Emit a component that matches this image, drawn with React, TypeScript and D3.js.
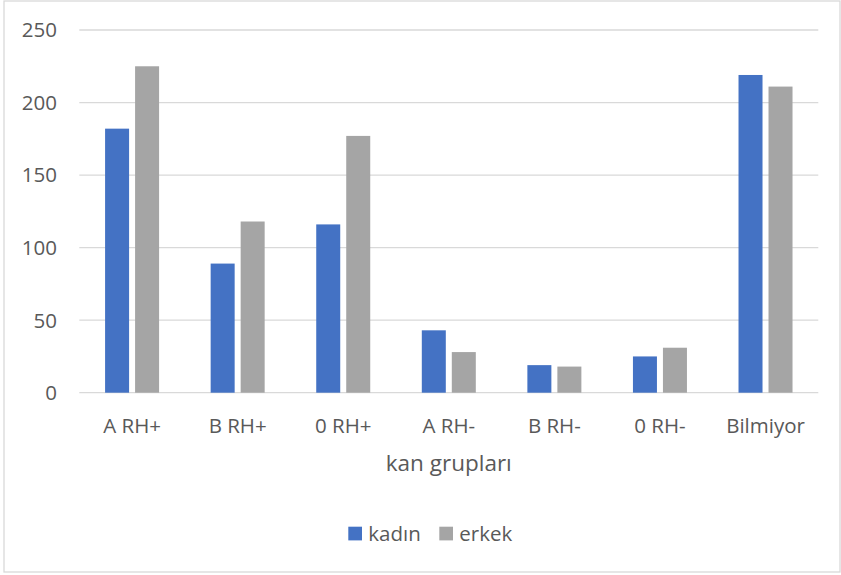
import React from "react";
import * as d3 from "d3";

const categories = ["A RH+", "B RH+", "0 RH+", "A RH-", "B RH-", "0 RH-", "Bilmiyor"];
const seriesNames = ["kadın", "erkek"];
const kadin = [182, 89, 116, 43, 19, 25, 219];
const erkek = [225, 118, 177, 28, 18, 31, 211];
const yTicks = [0, 50, 100, 150, 200, 250];
const xTitle = "kan grupları";

const colors: Record<string, string> = { "kadın": "#4472C4", "erkek": "#A5A5A5" };
const FONT = "'Open Sans', 'Noto Sans', sans-serif";
const TEXT = "#595959";

export default function App() {
  const W = 841, H = 575;
  const left = 79.3, right = 818.3, top = 30, bottom = 392.7;
  const x0 = d3.scaleBand<string>().domain(categories).range([left, right]).padding(0);
  const bw = x0.bandwidth();
  const x1 = d3.scaleBand<string>().domain(seriesNames).range([bw / 2 - 27, bw / 2 + 27]).paddingInner(0.2).paddingOuter(0);
  const y = d3.scaleLinear().domain([0, 250]).range([bottom, top]);
  const values: Record<string, number[]> = { "kadın": kadin, "erkek": erkek };

  return (
    <svg width={W} height={H} style={{ position: "absolute", left: 0, top: 0, background: "#fff" }} fontFamily={FONT}>
      <rect x={4} y={1} width={836} height={571} fill="#fff" stroke="#d9d9d9" strokeWidth={1.3} />
      {yTicks.map((t) => (
        <g key={t}>
          <line x1={left} x2={right} y1={y(t)} y2={y(t)} stroke="#d9d9d9" strokeWidth={1.3} />
          <text x={57} y={y(t)} dy="0.36em" textAnchor="end" fontSize={20.5} fill={TEXT}>{t}</text>
        </g>
      ))}
      {seriesNames.map((s) => (
        <g key={s}>
          {categories.map((c, i) => {
            const v = values[s][i];
            return (
              <rect key={c} x={(x0(c) as number) + (x1(s) as number)} y={y(v)} width={x1.bandwidth()} height={y(0) - y(v)} fill={colors[s]} />
            );
          })}
        </g>
      ))}
      {categories.map((c) => (
        <text key={c} x={(x0(c) as number) + bw / 2} y={432.5} textAnchor="middle" fontSize={20.5} fill={TEXT}>{c}</text>
      ))}
      <text x={(left + right) / 2} y={471} textAnchor="middle" fontSize={22.5} fill={TEXT}>{xTitle}</text>
      {seriesNames.map((s, i) => {
        const lx = i === 0 ? 348.3 : 439.3;
        return (
          <g key={s}>
            <rect x={lx} y={526.7} width={13.7} height={13.7} fill={colors[s]} />
            <text x={lx + 20} y={540.5} fontSize={20.5} fill={TEXT}>{s}</text>
          </g>
        );
      })}
    </svg>
  );
}
